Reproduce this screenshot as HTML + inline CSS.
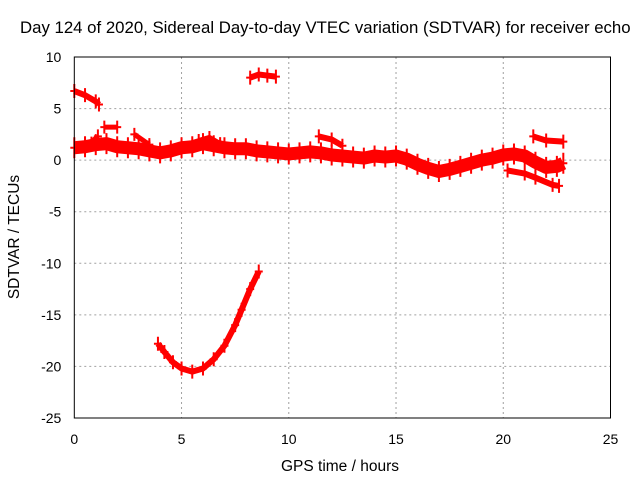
<!DOCTYPE html>
<html><head><meta charset="utf-8"><style>
body{margin:0;background:#fff}
svg{display:block;font-family:"Liberation Sans",sans-serif}
</style></head><body>
<svg id="c" width="640" height="480">
<text x="20" y="33" font-size="16.8">Day 124 of 2020, Sidereal Day-to-day VTEC variation (SDTVAR) for receiver echo</text>
<text x="340" y="471" font-size="15.5" text-anchor="middle">GPS time / hours</text>
<text x="19" y="237" font-size="15.5" text-anchor="middle" transform="rotate(-90 19 237)">SDTVAR / TECUs</text>
<g id="grid"></g><g id="data"></g><g id="axes"></g>
</svg>
<script>
const xTicks=[0,5,10,15,20,25];
const yTicks=[10,5,0,-5,-10,-15,-20,-25];
const trackA=[[0,6.7],[0.5,6.3],[1,5.7],[1.15,5.4]];
const trackB=[[8.2,8.0],[8.6,8.3],[9,8.2],[9.4,8.1]];
const trackDip=[[3.9,-17.8],[4.2,-18.6],[4.6,-19.6],[5,-20.2],[5.5,-20.5],[6,-20.2],[6.5,-19.3],[7,-18],[7.5,-16],[7.8,-14.5],[8.2,-12.5],[8.6,-10.8]];
const trackMain=[[0,1.2],[0.5,1.3],[1,1.5],[1.5,1.6],[2,1.3],[2.5,1.2],[3,1.1],[3.5,0.9],[4,0.7],[4.5,0.9],[5,1.2],[5.5,1.3],[6,1.6],[6.5,1.4],[7,1.2],[7.5,1.1],[8,1.1],[8.5,0.9],[9,0.8],[9.5,0.7],[10,0.6],[10.5,0.7],[11,0.8],[11.5,0.7],[12,0.5],[12.5,0.4],[13,0.3],[13.5,0.2],[14,0.4],[14.5,0.3],[15,0.4],[15.5,0.1],[16,-0.4],[16.5,-0.8],[17,-1.1],[17.5,-0.9],[18,-0.6],[18.5,-0.3],[19,0],[19.5,0.2],[20,0.5],[20.5,0.6],[21,0.4],[21.5,-0.2],[22,-0.7],[22.5,-0.6],[22.8,-0.3]];
const trackUpperR=[[21.4,2.3],[22,1.9],[22.8,1.8]];
const trackLowerR=[[20.2,-1],[21,-1.3],[21.5,-1.7],[22.3,-2.4],[22.6,-2.5]];
const trackBitA=[[1.4,3.2],[2,3.2]];
const trackBitB=[[11.4,2.3],[12,2.0],[12.5,1.4]];
const trackBitC=[[2.8,2.5],[3.5,1.5]];
const trackBitD=[[0.8,1.6],[1.1,2.3]];
const trackBitE=[[5.8,1.9],[6.3,2.2],[6.8,1.6]];
const X0=74.3,X1=610.5,Y0=57,Y1=418;
const sx=t=>X0+(t-0)/25*(X1-X0);
const sy=v=>Y1-(v+25)/35*(Y1-Y0);
const NS="http://www.w3.org/2000/svg";
function mk(tag,attrs,parent){const e=document.createElementNS(NS,tag);for(const k in attrs)e.setAttribute(k,attrs[k]);parent.appendChild(e);return e;}
const grid=document.getElementById('grid'),axes=document.getElementById('axes'),data=document.getElementById('data');
xTicks.forEach(t=>{
 if(t>0&&t<25){const l=mk('line',{x1:sx(t),x2:sx(t),y1:Y0,y2:Y1,stroke:'#a0a0a0','stroke-dasharray':'2,3'},grid);
 
 }
 const tx=mk('text',{x:sx(t),y:Y1+26,'font-size':14,'text-anchor':'middle'},axes);tx.textContent=t;
 
 
});
yTicks.forEach(v=>{
 if(v>-25&&v<10){const l=mk('line',{x1:X0,x2:X1,y1:sy(v),y2:sy(v),stroke:'#a0a0a0','stroke-dasharray':'2,3'},grid);
 
 }
 const tx=mk('text',{x:X0-13,y:sy(v)+5,'font-size':14,'text-anchor':'end'},axes);tx.textContent=v;
 
 
});
const fr=mk('rect',{x:X0,y:Y0,width:X1-X0,height:Y1-Y0,fill:'none',stroke:'#000','stroke-width':1},axes);


function track(pts,w,name){
 const g=mk('g',{},data);
 
 
 mk('polyline',{points:pts.map(p=>sx(p[0])+','+sy(p[1])).join(' '),fill:'none',stroke:'#ff0000','stroke-width':w,'stroke-linecap':'butt','stroke-linejoin':'round'},g);
 pts.forEach(p=>{const x=sx(p[0]),y=sy(p[1]);
  const m=mk('path',{d:`M${x-4},${y}h8M${x},${y-4-w/2}v${8+w}`,stroke:'#ff0000','stroke-width':2},g);
  
  });
}
track(trackA,6,'track-early-high');
track(trackB,6,'track-high-8h');
track(trackDip,6,'track-dip');
track(trackMain,13,'track-main');
track(trackUpperR,6,'track-upper-right');
track(trackLowerR,6,'track-lower-right');
track(trackBitA,5,'track-bit-a');
track(trackBitB,6,'track-bit-b');
track(trackBitC,5,'track-bit-c');
track(trackBitD,6,'track-bit-d');
track(trackBitE,5,'track-bit-e');
</script>
</body></html>
